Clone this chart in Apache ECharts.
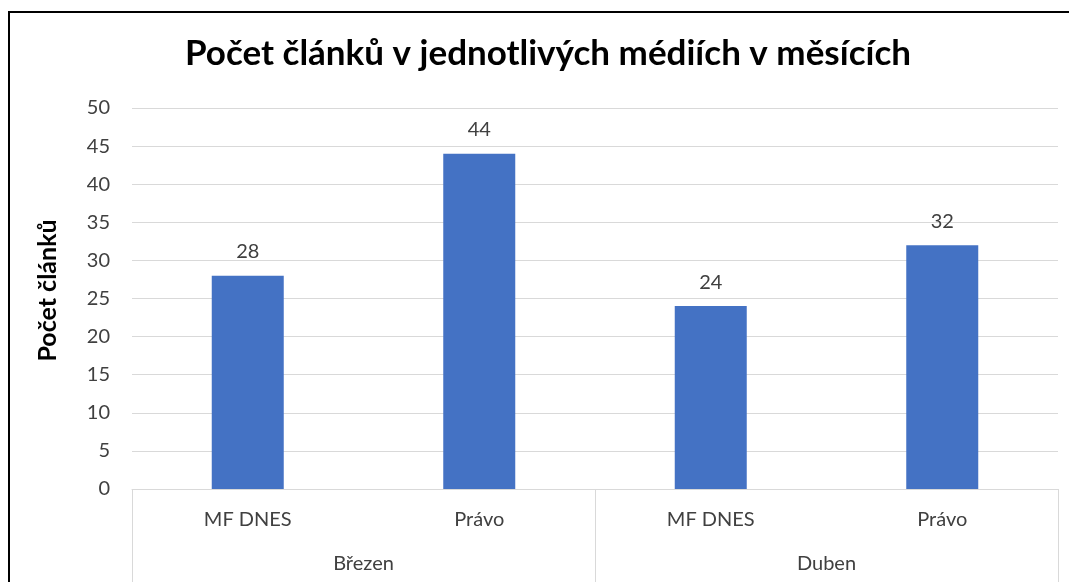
<!DOCTYPE html>
<html><head><meta charset="utf-8">
<script src="https://cdn.jsdelivr.net/npm/echarts@6/dist/echarts.min.js"></script>
<style>html,body{margin:0;padding:0;background:#fff;}#c{width:1069px;height:582px;}</style>
</head><body><div id="c"></div>
<script>
const categories = ['MF DNES', 'Právo', 'MF DNES', 'Právo'];
const groups = ['Březen', 'Duben'];
const values = [28, 44, 24, 32];
const yTicks = { min: 0, max: 50, interval: 5 };
const titleText = 'Počet článků v jednotlivých médiích v měsících';
const yName = 'Počet článků';

const chart = echarts.init(document.getElementById('c'), null, { renderer: 'canvas' });
const F = 'Lato, "Open Sans", sans-serif';
chart.setOption({
  animation: false,
  backgroundColor: '#fff',
  title: {
    text: titleText, left: 180, top: 31, padding: 5,
    textStyle: { fontFamily: F, fontSize: 35, fontWeight: 'bold', color: '#000' }
  },
  graphic: [{
    type: 'rect', silent: true, z: 100,
    shape: { x: 9, y: 12, width: 1080, height: 600 },
    style: { fill: 'none', stroke: '#000', lineWidth: 2 }
  }],
  grid: { left: 132, right: 11, top: 108, bottom: 93, containLabel: false },
  xAxis: [{
    type: 'category', data: categories, position: 'bottom',
    axisLine: { show: true, lineStyle: { color: '#d9d9d9', width: 1 } },
    axisTick: { show: false },
    axisLabel: { margin: 21, fontFamily: F, fontSize: 20, color: '#404040', interval: 0 }
  }, {
    type: 'category', data: groups, position: 'bottom',
    axisLine: { show: false },
    axisTick: { show: true, length: 100, lineStyle: { color: '#d9d9d9' } },
    axisLabel: { margin: 65, fontFamily: F, fontSize: 20, color: '#404040' }
  }],
  yAxis: {
    type: 'value', min: yTicks.min, max: yTicks.max, interval: yTicks.interval,
    name: yName, nameLocation: 'middle', nameGap: 72, nameRotate: 90,
    nameTextStyle: { fontFamily: F, fontSize: 25, fontWeight: 'bold', color: '#000', padding: [0, 0, 0, 16] },
    axisLine: { show: false }, axisTick: { show: false },
    axisLabel: { margin: 22, fontFamily: F, fontSize: 20, color: '#404040' },
    splitLine: { lineStyle: { color: '#d9d9d9', width: 1 } }
  },
  series: [{
    type: 'bar', data: values, xAxisIndex: 0, barWidth: 72,
    itemStyle: { color: '#4472c4' },
    label: { show: true, position: 'top', distance: 14, fontFamily: F, fontSize: 20, color: '#404040' }
  }]
});
</script></body></html>
